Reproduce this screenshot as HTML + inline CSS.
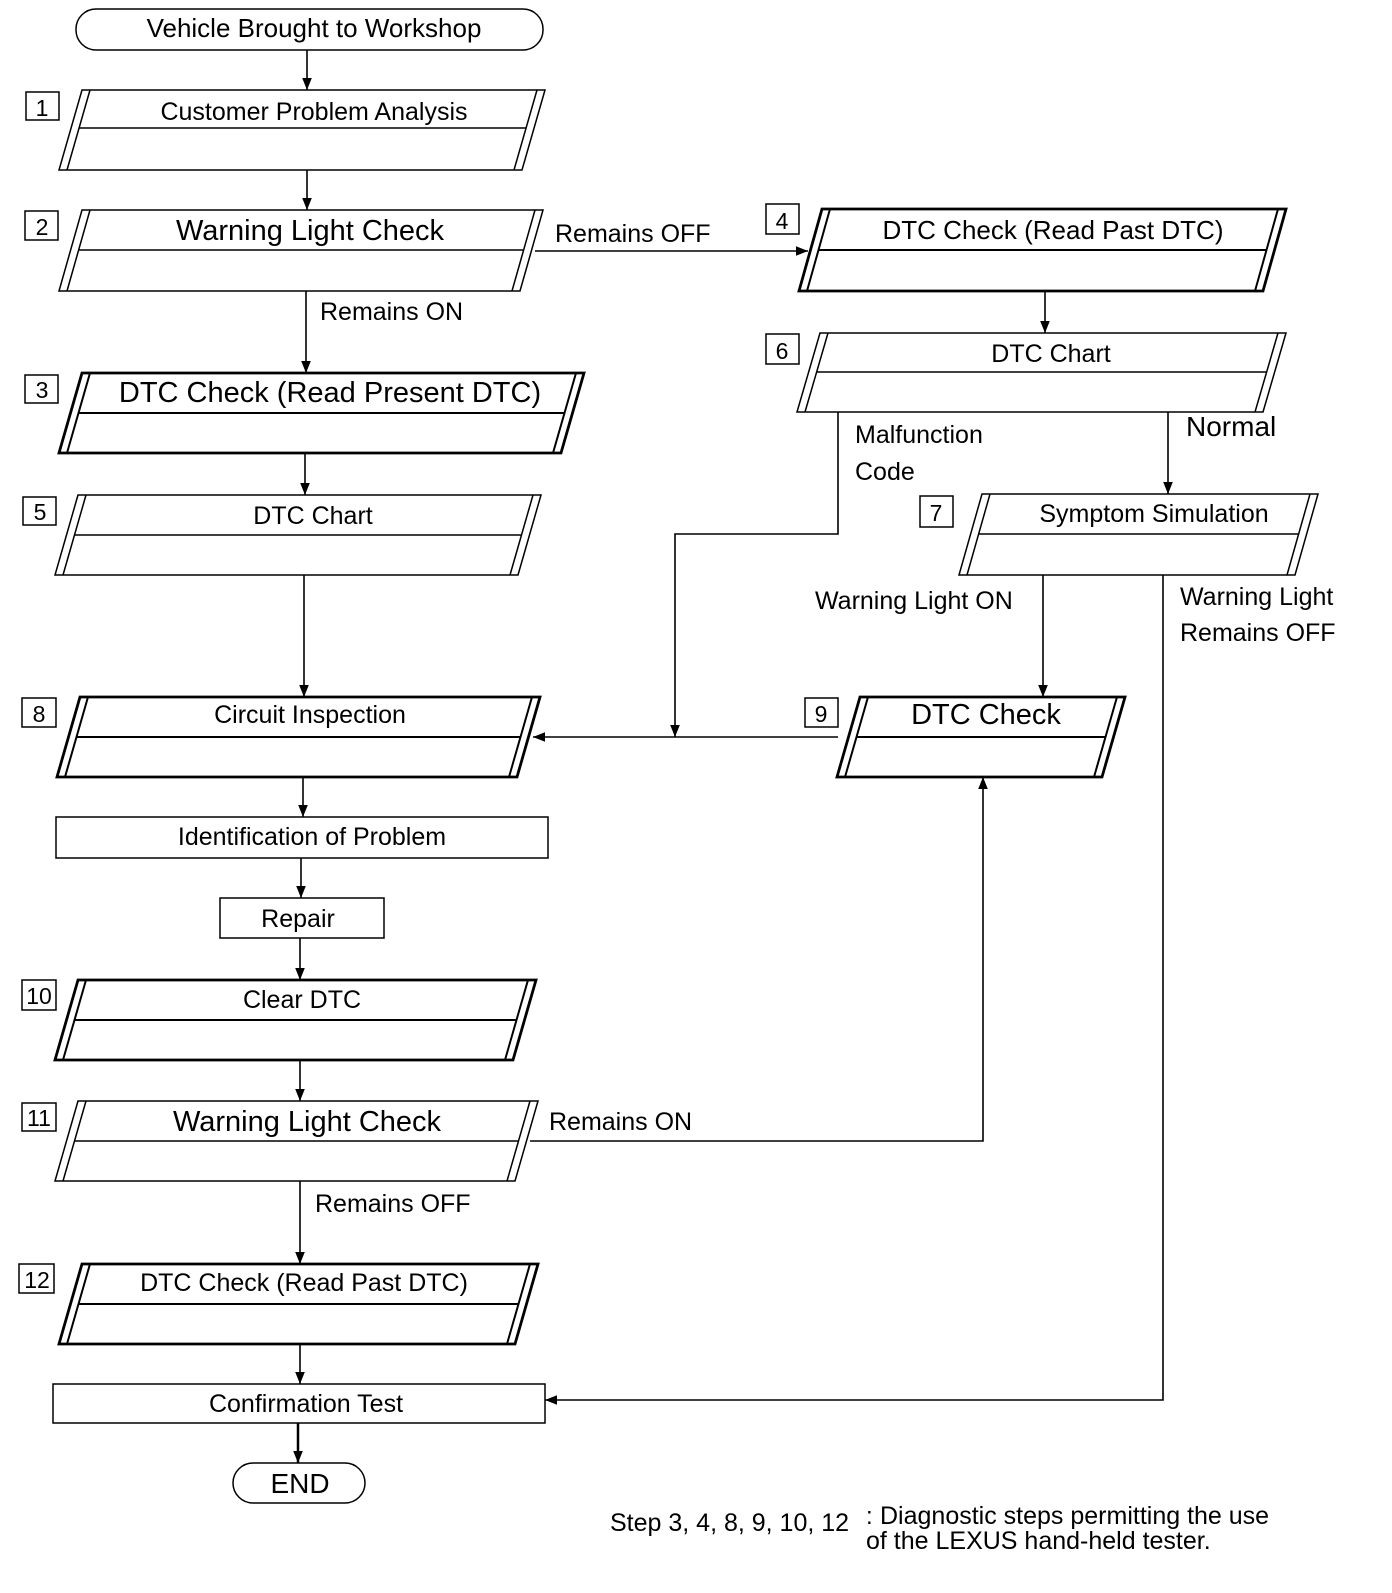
<!DOCTYPE html>
<html><head><style>
html,body{margin:0;padding:0;background:#fff}
svg text{font-family:"Liberation Sans",Arial,sans-serif;fill:#000}
</style></head><body>
<svg width="1392" height="1588" viewBox="0 0 1392 1588" xmlns="http://www.w3.org/2000/svg">
<defs>
<marker id="a" viewBox="0 0 10 10" refX="10" refY="5" markerWidth="12" markerHeight="12" markerUnits="userSpaceOnUse" orient="auto"><path d="M0,1 L10,5 L0,9 z" fill="#000"/></marker>
</defs>
<g fill="none" stroke="#000">
<rect x="76" y="9" width="467" height="41" rx="20" stroke-width="1.5"/>
<rect x="233" y="1463" width="132" height="40" rx="20" stroke-width="1.5"/>
<rect x="56" y="817" width="492" height="41" stroke-width="1.5"/>
<rect x="220" y="898" width="164" height="40" stroke-width="1.5"/>
<rect x="53" y="1384" width="492" height="39" stroke-width="1.5"/>
<g stroke-width="1.5">
<rect x="26" y="92" width="33" height="28"/>
<rect x="25" y="211" width="33" height="29"/>
<rect x="25" y="375" width="33" height="28"/>
<rect x="23" y="497" width="33" height="28"/>
<rect x="22" y="698" width="34" height="29"/>
<rect x="22" y="980" width="34" height="30"/>
<rect x="22" y="1103" width="34" height="28"/>
<rect x="19" y="1264" width="35" height="29"/>
<rect x="766" y="204" width="33" height="30"/>
<rect x="766" y="334" width="33" height="30"/>
<rect x="920" y="496" width="33" height="31"/>
<rect x="805" y="698" width="33" height="29"/>
</g>
<g stroke-width="1.5">
<polygon points="82,90 545,90 522,170 59,170"/><path d="M90,90 67,170 M537,90 514,170 M79,128 526,128"/>
<polygon points="82,210 543,210 520,291 59,291"/><path d="M90,210 67,291 M535,210 512,291 M79,250 524,250"/>
<polygon points="78,495 541,495 518,575 55,575"/><path d="M86,495 63,575 M533,495 510,575 M75,535 522,535"/>
<polygon points="78,1101 538,1101 515,1181 55,1181"/><path d="M86,1101 63,1181 M530,1101 507,1181 M75,1141 519,1141"/>
<polygon points="820,333 1286,333 1263,412 797,412"/><path d="M828,333 805,412 M1278,333 1255,412 M817,372 1267,372"/>
<polygon points="982,494 1318,494 1295,575 959,575"/><path d="M990,494 967,575 M1310,494 1287,575 M979,534 1299,534"/>
</g>
<g stroke-width="2.8">
<polygon points="82,373 584,373 561,453 59,453"/><path d="M90,373 67,453 M576,373 553,453 M79,413 565,413" stroke-width="2"/>
<polygon points="80,697 540,697 517,777 57,777"/><path d="M88,697 65,777 M532,697 509,777 M77,737 521,737" stroke-width="2"/>
<polygon points="78,980 536,980 513,1060 55,1060"/><path d="M86,980 63,1060 M528,980 505,1060 M75,1020 517,1020" stroke-width="2"/>
<polygon points="82,1264 538,1264 515,1344 59,1344"/><path d="M90,1264 67,1344 M530,1264 507,1344 M79,1304 519,1304" stroke-width="2"/>
<polygon points="822,209 1286,209 1263,291 799,291"/><path d="M830,209 807,291 M1278,209 1255,291 M819,250 1267,250" stroke-width="2"/>
<polygon points="860,697 1125,697 1102,777 837,777"/><path d="M868,697 845,777 M1117,697 1094,777 M857,737 1106,737" stroke-width="2"/>
</g>
<g stroke-width="1.6" marker-end="url(#a)">
<path d="M307,50 V90"/>
<path d="M307,170 V210"/>
<path d="M306,291 V373"/>
<path d="M535,251 H808"/>
<path d="M1045,291 V333"/>
<path d="M305,453 V495"/>
<path d="M304,575 V697"/>
<path d="M838,412 V534 H675 V737"/>
<path d="M838,737 H533"/>
<path d="M1168,412 V494"/>
<path d="M1043,575 V697"/>
<path d="M1163,575 V1400 H545"/>
<path d="M303,777 V817"/>
<path d="M301,858 V898"/>
<path d="M300,938 V980"/>
<path d="M300,1060 V1101"/>
<path d="M300,1181 V1264"/>
<path d="M300,1344 V1384"/>
<path d="M298,1423 V1463" stroke-width="2.5"/>
<path d="M530,1141 H983 V777"/>
</g>
</g>
<g text-anchor="middle">
<text x="314" y="37" font-size="26">Vehicle Brought to Workshop</text>
<text x="314" y="120" font-size="25">Customer Problem Analysis</text>
<text x="310" y="240" font-size="29">Warning Light Check</text>
<text x="330" y="402" font-size="29">DTC Check (Read Present DTC)</text>
<text x="313" y="524" font-size="25">DTC Chart</text>
<text x="310" y="723" font-size="25">Circuit Inspection</text>
<text x="312" y="845" font-size="25">Identification of Problem</text>
<text x="298" y="927" font-size="25">Repair</text>
<text x="302" y="1008" font-size="25">Clear DTC</text>
<text x="307" y="1131" font-size="29">Warning Light Check</text>
<text x="304" y="1291" font-size="25">DTC Check (Read Past DTC)</text>
<text x="306" y="1412" font-size="25">Confirmation Test</text>
<text x="300" y="1493" font-size="28">END</text>
<text x="1053" y="239" font-size="26">DTC Check (Read Past DTC)</text>
<text x="1051" y="362" font-size="25">DTC Chart</text>
<text x="1154" y="522" font-size="25">Symptom Simulation</text>
<text x="986" y="724" font-size="29">DTC Check</text>
<g font-size="23">
<text x="42" y="116">1</text><text x="42" y="235">2</text><text x="42" y="398">3</text>
<text x="40" y="520">5</text><text x="39" y="722">8</text><text x="39" y="1004">10</text>
<text x="39" y="1126">11</text><text x="37" y="1288">12</text><text x="782" y="229">4</text>
<text x="782" y="359">6</text><text x="936" y="521">7</text><text x="821" y="722">9</text>
</g>
</g>
<g font-size="25">
<text x="555" y="242">Remains OFF</text>
<text x="320" y="320">Remains ON</text>
<text x="855" y="443">Malfunction</text>
<text x="855" y="480">Code</text>
<text x="1186" y="436" font-size="28">Normal</text>
<text x="815" y="609">Warning Light ON</text>
<text x="1180" y="605">Warning Light</text>
<text x="1180" y="641">Remains OFF</text>
<text x="549" y="1130">Remains ON</text>
<text x="315" y="1212">Remains OFF</text>
<text x="610" y="1531" font-size="25">Step 3, 4, 8, 9, 10, 12</text>
<text x="866" y="1524" font-size="24">:</text>
<text x="880" y="1524" font-size="25">Diagnostic steps permitting the use</text>
<text x="866" y="1549" font-size="25">of the LEXUS hand-held tester.</text>
</g>
</svg>
</body></html>
